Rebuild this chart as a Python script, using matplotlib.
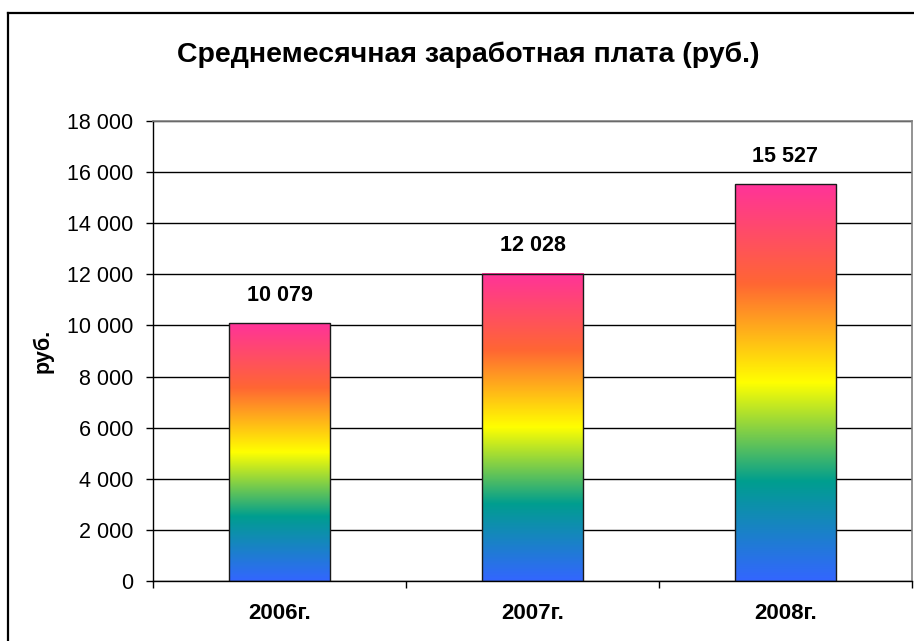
import numpy as np
import matplotlib.pyplot as plt
from matplotlib.colors import LinearSegmentedColormap
from matplotlib.lines import Line2D

plt.rcParams["font.family"] = ["Liberation Sans", "DejaVu Sans"]

# ─── Data ─────────────────────────────────────────────────────────────────────
years = ["2006г.", "2007г.", "2008г."]
salary = [10079, 12028, 15527]
y_ticks = [0, 2000, 4000, 6000, 8000, 10000, 12000, 14000, 16000, 18000]
title = "Среднемесячная заработная плата (руб.)"
y_label = "руб."

# rainbow fill: blue -> teal -> yellow -> orange -> pink
rainbow = LinearSegmentedColormap.from_list("rainbow_fill", [
    (0.00, "#3366ff"),
    (0.25, "#009e8f"),
    (0.50, "#ffff00"),
    (0.75, "#ff6633"),
    (1.00, "#ff3399"),
])


def fmt(v):
    return f"{v:,}".replace(",", " ")


fig = plt.figure(figsize=(9.14, 6.41), dpi=100)
ax = fig.add_axes([153 / 914, 1 - 581 / 641, 759 / 914, 460 / 641])

# outer chart frame (left and top edges visible)
fig.add_artist(Line2D([8 / 914, 8 / 914], [0, 1 - 13 / 641], transform=fig.transFigure,
                      color="black", lw=1.6))
fig.add_artist(Line2D([8 / 914, 1], [1 - 13 / 641, 1 - 13 / 641], transform=fig.transFigure,
                      color="black", lw=1.6))

width = 0.4
grad = np.linspace(0, 1, 256).reshape(-1, 1)
for i, v in enumerate(salary):
    ax.imshow(grad, cmap=rainbow, origin="lower", aspect="auto",
              extent=[i - width / 2, i + width / 2, 0, v], zorder=2)
    ax.bar(i, v, width=width, facecolor="none", edgecolor="#1a1a1a", lw=1.0, zorder=3)
    ax.annotate(fmt(v), (i, v), xytext=(0, 28), textcoords="offset pixels",
                ha="center", va="center", fontsize=15.5, fontweight="bold")

ax.set_xlim(-0.5, 2.5)
ax.set_ylim(0, 18000)
ax.set_yticks(y_ticks)
ax.set_yticklabels([fmt(t) for t in y_ticks], fontsize=15.5)
ax.set_xticks(range(len(years)))
ax.set_xticklabels(years, fontsize=16, fontweight="bold")
ax.set_xticks([-0.5, 0.5, 1.5, 2.5], minor=True)
ax.tick_params(axis="x", which="major", length=0, pad=16)
ax.tick_params(axis="x", which="minor", length=5, direction="out", width=1)
ax.tick_params(axis="y", length=5, direction="out", width=1, pad=9)

ax.grid(axis="y", color="black", lw=1.0, zorder=1)
ax.set_axisbelow(True)
for s in ["left", "bottom"]:
    ax.spines[s].set_color("black")
    ax.spines[s].set_linewidth(1.0)
for s in ["top", "right"]:
    ax.spines[s].set_color("#808080")
    ax.spines[s].set_linewidth(1.2)

ax.set_ylabel(y_label, fontsize=15.5, fontweight="bold", labelpad=10)
fig.text(468 / 914, 1 - 55 / 641, title, ha="center", va="center",
         fontsize=20.5, fontweight="bold")

fig.savefig("out.png", dpi=100)
